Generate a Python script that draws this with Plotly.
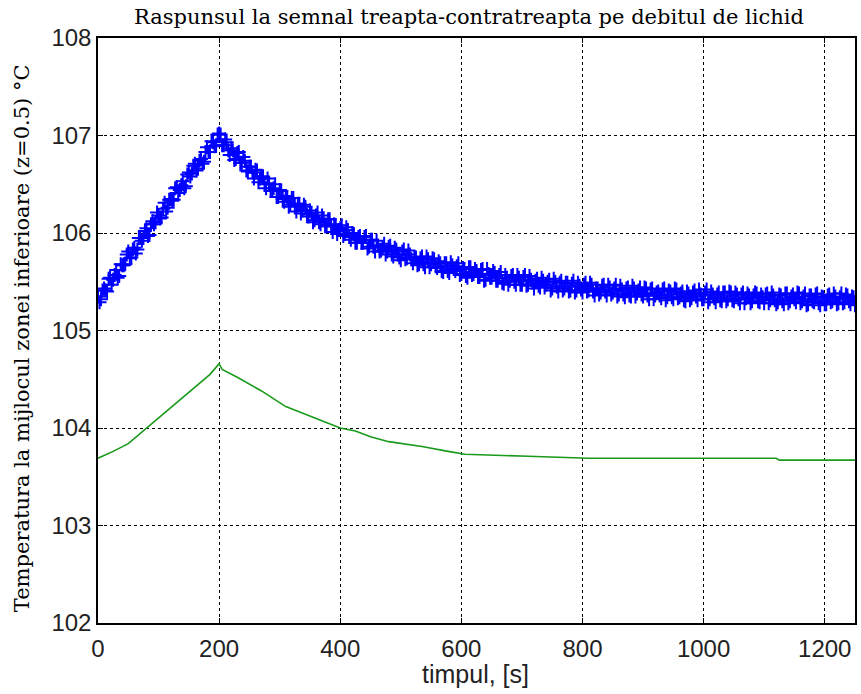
import plotly.graph_objects as go

# ---------------- data ----------------
step_s = 5  # sampling step of each measured block, seconds

# samples at t = 0, 5, 10, ... 1250 s
temp_measured_a = [
    105.35, 105.32, 105.43, 105.40, 105.54, 105.52, 105.62, 105.56, 105.67, 105.68,
    105.81, 105.75, 105.85, 105.83, 105.95, 105.95, 106.05, 105.98, 106.12, 106.11,
    106.18, 106.16, 106.31, 106.26, 106.35, 106.34, 106.47, 106.44, 106.53, 106.48,
    106.62, 106.61, 106.71, 106.66, 106.76, 106.73, 106.88, 106.83, 106.93, 106.90,
    107.02,
    106.90, 106.96, 106.85, 106.87, 106.75,
    106.82, 106.72, 106.78, 106.64, 106.68,
    106.62, 106.65, 106.52, 106.58, 106.50,
    106.56, 106.43, 106.46, 106.37, 106.44,
    106.35, 106.38, 106.27, 106.36, 106.28,
    106.30, 106.20, 106.29, 106.19, 106.23,
    106.11, 106.18, 106.11, 106.18, 106.07,
    106.14, 106.07, 106.09, 105.99, 106.05,
    105.97, 106.06, 105.96, 106.00, 105.90,
    105.96, 105.90, 105.96, 105.84, 105.93,
    105.86, 105.92, 105.81, 105.85, 105.78,
    105.86, 105.78, 105.85, 105.78, 105.72,
    105.83, 105.74, 105.78, 105.69, 105.75,
    105.68, 105.76, 105.65, 105.73, 105.68,
    105.73, 105.64, 105.69, 105.60, 105.69,
    105.59, 105.67, 105.61, 105.69, 105.58,
    105.63, 105.54, 105.65, 105.58, 105.61,
    105.55, 105.63, 105.52, 105.58, 105.54,
    105.59, 105.51, 105.60, 105.48, 105.54,
    105.51, 105.57, 105.47, 105.54, 105.47,
    105.57, 105.47, 105.52, 105.43, 105.53,
    105.44, 105.51, 105.47, 105.52, 105.43,
    105.50, 105.40, 105.51, 105.43, 105.49,
    105.41, 105.51, 105.41, 105.46, 105.39,
    105.49, 105.41, 105.47, 105.36, 105.43,
    105.39, 105.47, 105.36, 105.44, 105.39,
    105.47, 105.37, 105.42, 105.34, 105.44,
    105.35, 105.43, 105.38, 105.44, 105.35,
    105.43, 105.32, 105.43, 105.36, 105.40,
    105.33, 105.43, 105.34, 105.40, 105.32,
    105.42, 105.34, 105.40, 105.30, 105.38,
    105.33, 105.41, 105.31, 105.37, 105.32,
    105.42, 105.32, 105.37, 105.29, 105.39,
    105.30, 105.39, 105.32, 105.39, 105.30,
    105.37, 105.28, 105.39, 105.33, 105.36,
    105.30, 105.39, 105.30, 105.37, 105.28,
    105.38, 105.31, 105.36, 105.27, 105.37,
    105.30, 105.38, 105.28, 105.35, 105.32,
    105.39, 105.28, 105.35, 105.26, 105.36,
    105.30, 105.37, 105.28, 105.35, 105.27,
    105.36, 105.29, 105.38, 105.27, 105.34,
    105.28, 105.37, 105.30, 105.35, 105.26,
]

# samples at t = 2.5, 7.5, ... 1247.5 s
temp_measured_b = [
    105.29, 105.41, 105.41, 105.53, 105.47, 105.57, 105.54, 105.68, 105.67, 105.78,
    105.74, 105.83, 105.79, 105.95, 105.92, 106.02, 105.97, 106.09, 106.09, 106.21,
    106.15, 106.25, 106.22, 106.34, 106.33, 106.46, 106.41, 106.49, 106.46, 106.60,
    106.58, 106.69, 106.64, 106.74, 106.71, 106.83, 106.83, 106.94, 106.89, 107.01,
    107.01, 106.90, 106.93, 106.80, 106.85,
    106.76, 106.83, 106.72, 106.74, 106.63,
    106.68, 106.56, 106.64, 106.56, 106.58,
    106.46, 106.51, 106.43, 106.50, 106.37,
    106.43, 106.32, 106.37, 106.29, 106.36,
    106.22, 106.30, 106.23, 106.27, 106.17,
    106.20, 106.13, 106.21, 106.09, 106.15,
    106.07, 106.14, 106.01, 106.08, 106.03,
    106.08, 105.99, 106.03, 105.93, 105.99,
    105.90, 105.97, 105.90, 105.97, 105.86,
    105.93, 105.81, 105.87, 105.82, 105.89,
    105.81, 105.87, 105.76, 105.83, 105.75,
    105.81, 105.73, 105.82, 105.73, 105.75,
    105.67, 105.74, 105.68, 105.76, 105.65,
    105.74, 105.66, 105.71, 105.61, 105.69,
    105.61, 105.70, 105.63, 105.66, 105.57,
    105.64, 105.56, 105.65, 105.57, 105.63,
    105.55, 105.62, 105.51, 105.63, 105.54,
    105.61, 105.51, 105.57, 105.49, 105.57,
    105.47, 105.56, 105.50, 105.57, 105.47,
    105.55, 105.46, 105.56, 105.49, 105.51,
    105.46, 105.54, 105.44, 105.50, 105.41,
    105.53, 105.45, 105.49, 105.41, 105.49,
    105.40, 105.48, 105.39, 105.49, 105.42,
    105.47, 105.40, 105.49, 105.40, 105.43,
    105.37, 105.46, 105.40, 105.47, 105.37,
    105.43, 105.35, 105.46, 105.37, 105.43,
    105.36, 105.46, 105.35, 105.41, 105.37,
    105.44, 105.36, 105.42, 105.32, 105.39,
    105.36, 105.42, 105.31, 105.41, 105.34,
    105.43, 105.33, 105.38, 105.31, 105.40,
    105.31, 105.39, 105.35, 105.42, 105.32,
    105.39, 105.29, 105.40, 105.33, 105.37,
    105.31, 105.39, 105.30, 105.40, 105.31,
    105.39, 105.32, 105.37, 105.28, 105.38,
    105.28, 105.36, 105.38, 105.29, 105.34,
    105.37, 105.28, 105.39, 105.31, 105.29,
    105.36, 105.27, 105.38, 105.30, 105.37,
    105.29, 105.38, 105.30, 105.38, 105.27,
    105.36, 105.29, 105.38, 105.26, 105.34,
    105.27, 105.37, 105.30, 105.35, 105.28,
    105.38, 105.29, 105.36, 105.27, 105.34,
]

time_measured_a = [i * step_s for i in range(len(temp_measured_a))]
time_measured_b = [i * step_s + step_s / 2 for i in range(len(temp_measured_b))]

time_model = [0, 25, 50, 80, 100, 125, 160, 185, 200, 205, 230, 270, 310, 350,
              400, 425, 450, 480, 535, 578, 606, 710, 810, 1120, 1125, 1250]
temp_model = [103.69, 103.76, 103.84, 104.00, 104.10, 104.23, 104.42, 104.55, 104.66,
              104.60, 104.52, 104.38, 104.22, 104.12, 104.00, 103.97, 103.91, 103.86,
              103.81, 103.76, 103.73, 103.71, 103.69, 103.69, 103.67, 103.67]

x_ticks = [0, 200, 400, 600, 800, 1000, 1200]
y_ticks = [102, 103, 104, 105, 106, 107, 108]

title_text = "Raspunsul la semnal treapta-contratreapta pe debitul de lichid"
x_title = "timpul, [s]"
y_title = "Temperatura la mijlocul zonei inferioare (z=0.5) °C"

# ---------------- figure ----------------
fig = go.Figure()
fig.add_trace(go.Scatter(
    x=time_measured_a + time_measured_b, y=temp_measured_a + temp_measured_b,
    mode="markers",
    marker=dict(symbol="cross-thin", size=10, color="#0000ff",
                line=dict(color="#0000ff", width=2)),
    showlegend=False, hoverinfo="skip"))
fig.add_trace(go.Scatter(
    x=time_model, y=temp_model, mode="lines",
    line=dict(color="#1a9a1a", width=1.6),
    showlegend=False, hoverinfo="skip"))

axis_common = dict(
    showline=True, linecolor="black", linewidth=1.5, mirror="allticks",
    ticks="inside", ticklen=5, tickcolor="black", tickwidth=1,
    showgrid=True, gridcolor="black", griddash="dot", gridwidth=1,
    zeroline=False,
    tickfont=dict(family="Liberation Sans, Arial, sans-serif", size=24, color="#222"),
)

fig.update_xaxes(range=[0, 1250], tickvals=x_ticks, ticktext=[str(v) for v in x_ticks],
                 ticklabelstandoff=3, **axis_common)
fig.update_yaxes(range=[102, 108], tickvals=y_ticks, ticktext=[str(v) for v in y_ticks],
                 **axis_common)

L, R, T, B = 98, 4, 38, 71
W, H = 861, 694
pw, ph = W - L - R, H - T - B

def px_to_paper(px, py):
    return (px - L) / pw, (H - B - py) / ph

tx, ty = px_to_paper(470, 17)
xx, xy = px_to_paper(476, 674)
yx, yy = px_to_paper(22, 338)

serif = "DejaVu Serif, Liberation Serif, serif"
fig.update_layout(
    width=W, height=H,
    margin=dict(l=L, r=R, t=T, b=B, pad=0),
    paper_bgcolor="white", plot_bgcolor="white",
    annotations=[
        dict(text=title_text, x=tx, y=ty, xref="paper", yref="paper",
             xanchor="center", yanchor="middle", showarrow=False,
             font=dict(family=serif, size=21, color="black")),
        dict(text=x_title, x=xx, y=xy, xref="paper", yref="paper",
             xanchor="center", yanchor="middle", showarrow=False,
             font=dict(family="Liberation Sans, Arial, sans-serif", size=25, color="#222")),
        dict(text=y_title, x=yx, y=yy, xref="paper", yref="paper",
             xanchor="center", yanchor="middle", showarrow=False, textangle=-90,
             font=dict(family=serif, size=21, color="black")),
    ],
)

fig.write_html("out.html")
